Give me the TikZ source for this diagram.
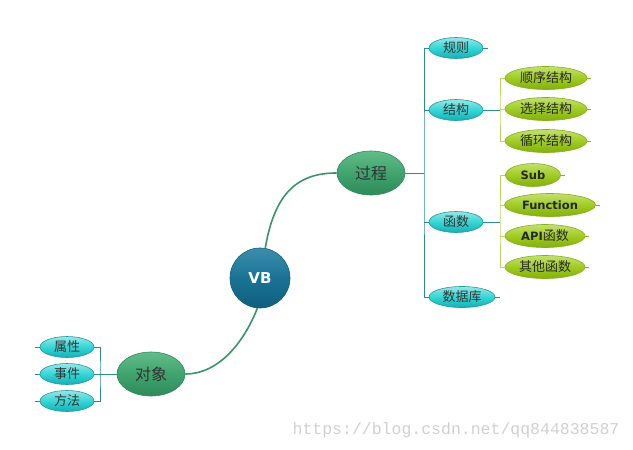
\documentclass[tikz,border=0pt]{standalone}
\usepackage{fontspec}
\setmainfont{Noto Sans CJK SC}
\newfontfamily\latinbold{DejaVu Sans}
\newfontfamily\wmfont{Liberation Mono}
\usetikzlibrary{shapes.geometric}
\definecolor{trunk}{HTML}{2A8C8C}
\definecolor{mainline}{HTML}{3A9468}
\definecolor{leafline}{HTML}{B8D860}
\definecolor{cyanborder}{HTML}{1E9AA0}
\definecolor{greenborder}{HTML}{88B018}
\definecolor{grtop}{HTML}{C4E070}
\definecolor{grmid}{HTML}{A0CC22}
\definecolor{grbot}{HTML}{82AE12}
\definecolor{midtop}{HTML}{62BC88}
\definecolor{midmid}{HTML}{40A46E}
\definecolor{midbot}{HTML}{2E8A5A}
\definecolor{vbtop}{HTML}{3C8EAC}
\definecolor{vbmid}{HTML}{1A7394}
\definecolor{vbbot}{HTML}{0F5E7C}
\tikzset{
  x=1pt,y=-1pt,
  mid/.style={ellipse,draw=midbot,line width=0.6pt,top color=midtop,bottom color=midbot,middle color=midmid,minimum width=68pt,minimum height=44pt,inner sep=0pt,font=\fontsize{16}{16}\selectfont,text=black!80},
  cy/.style={ellipse,draw=cyanborder,line width=0.6pt,top color=cyan!25!white!80!teal,bottom color=cyanborder!80!cyan,middle color=cyan!60!teal!80!white,minimum width=54pt,minimum height=21pt,inner sep=0pt,font=\fontsize{13}{13}\selectfont,text=black!80},
  gr/.style={ellipse,draw=greenborder,line width=0.6pt,top color=grtop,bottom color=grbot,middle color=grmid,minimum width=82pt,minimum height=23pt,inner sep=0pt,font=\fontsize{13}{13}\selectfont,text=black!85},
  grb/.style={gr,font=\latinbold\bfseries\fontsize{11.5}{11.5}\selectfont},
  tline/.style={draw=trunk,line width=1pt},
  lline/.style={draw=leafline,line width=1pt},
  mline/.style={draw=mainline,line width=1.6pt},
  stub/.style={draw=trunk,line width=0.6pt},
  gstub/.style={draw=greenborder,line width=0.6pt},
}
\begin{document}
\begin{tikzpicture}
\useasboundingbox (0,0) rectangle (633,450);
\fill[white] (0,0) rectangle (633,450);

% central node
\node[circle,minimum size=60pt,inner sep=0pt,draw=vbbot,line width=0.6pt,top color=vbtop,bottom color=vbbot,middle color=vbmid,font=\latinbold\bfseries\fontsize{15}{15}\selectfont,text=white] (vb) at (260,278) {VB};

\node[mid] (gc) at (371,173) {过程};
\node[mid] (dx) at (151,374) {对象};

% main curves
\draw[mline] (vb.80) .. controls (275,190) and (300,173) .. (gc.west);
\draw[mline] (vb.265) .. controls (245,340) and (220,374) .. (dx.east);

% right first level
\node[cy] (gz) at (456,48) {规则};
\node[cy] (jg) at (456,110) {结构};
\node[cy] (hs) at (456,222) {函数};
\node[cy,minimum width=66pt] (sjk) at (462,297) {数据库};

\coordinate (tr) at (424,173);
\draw[tline] (gc.east) -- (tr);
\draw[tline] (gz.west) -| (tr) |- (sjk.west);
\draw[tline] (jg.west) -- (jg.west -| tr);
\draw[tline] (hs.west) -- (hs.west -| tr);

% structure children
\node[gr] (sx) at (546,78) {顺序结构};
\node[gr] (xz) at (546,109) {选择结构};
\node[gr] (xh) at (546,141) {循环结构};
\coordinate (jb) at (500,110);
\draw[tline] (jg.east) -- (jb);
\draw[lline] (sx.west) -| (jb) |- (xh.west);
\draw[lline] (xz.west) -- (xz.west -| jb);

% function children
\node[grb,minimum width=55pt] (sub) at (533,175) {Sub};
\node[grb,minimum width=91pt] (fn) at (550,205) {Function};
\node[gr,minimum width=80pt] (api) at (545,236) {{\latinbold\bfseries\fontsize{11.5}{11.5}\selectfont API}函数};
\node[gr,minimum width=80pt] (qt) at (545,267) {其他函数};
\coordinate (hb) at (500,222);
\draw[tline] (hs.east) -- (hb);
\draw[lline] (sub.west) -| (hb) |- (qt.west);
\draw[lline] (fn.west) -- (fn.west -| hb);
\draw[lline] (api.west) -- (api.west -| hb);

% left children
\node[cy] (sx2) at (67,347) {属性};
\node[cy] (sj) at (67,374) {事件};
\node[cy] (ff) at (67,401) {方法};
\coordinate (lb) at (100,374);
\draw[tline] (dx.west) -- (lb);
\draw[tline] (sx2.east) -| (lb) |- (ff.east);
\draw[tline] (sj.east) -- (lb);

% collapse stubs
\foreach \n in {gz,sjk}{\draw[stub] (\n.east) -- ++(5,0);}
\foreach \n in {sx2,sj,ff}{\draw[stub] (\n.west) -- ++(-5,0);}
\foreach \n in {sx,xz,xh,sub,fn,api,qt}{\draw[gstub] (\n.east) -- ++(4,0);}

% watermark
\node[anchor=center,text=black!18,font=\wmfont\fontsize{16.5}{16.5}\selectfont,inner sep=0pt] (wm) at (456,430) {https://blog.csdn.net/qq844838587};
\end{tikzpicture}
\end{document}
